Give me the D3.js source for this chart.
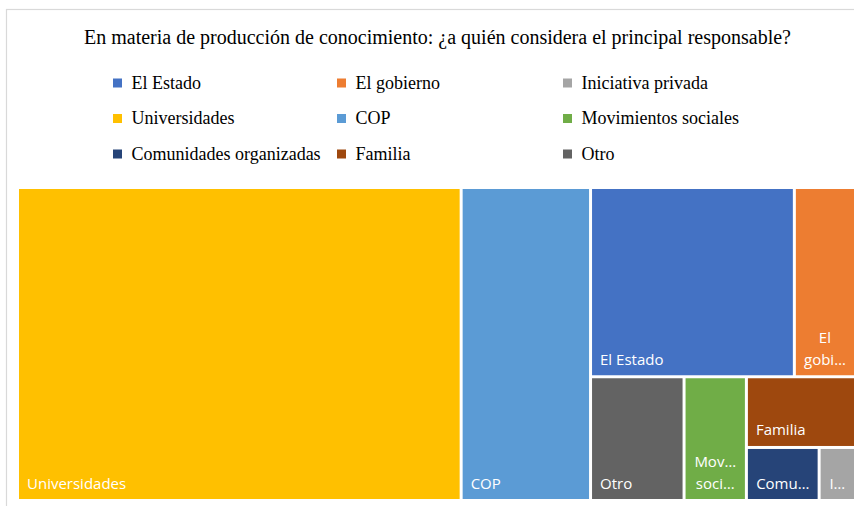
<!DOCTYPE html>
<html><head><meta charset="utf-8">
<script src="https://cdn.jsdelivr.net/npm/d3@7"></script>
<style>body{margin:0;background:#fff} svg{display:block}</style>
</head><body><svg id="chart" width="854" height="506"></svg>
<script>
const chartTitle = "En materia de producción de conocimiento: ¿a quién considera el principal responsable?";
const categories = ["El Estado","El gobierno","Iniciativa privada","Universidades","COP","Movimientos sociales","Comunidades organizadas","Familia","Otro"];
const values = [20, 6, 1, 72, 21, 4, 2, 4, 6];
const colors = ["#4472C4","#ED7D31","#A5A5A5","#FFC000","#5B9BD5","#70AD47","#264478","#9E480E","#636363"];

const svg = d3.select("#chart");
const W = 854, H = 506;
svg.append("rect").attr("width", W).attr("height", H).attr("fill", "#fff");
// chart area outline
svg.append("rect").attr("x", 6.5).attr("y", 9.5).attr("width", 900).attr("height", 560)
  .attr("fill", "none").attr("stroke", "#d9d9d9").attr("stroke-width", 1.2);

// title
svg.append("text").attr("x", 437.5).attr("y", 44).attr("text-anchor", "middle")
  .style("font-family", "'Liberation Serif','Times New Roman',serif").style("font-size", "20px")
  .attr("fill", "#000").text(chartTitle);

// legend (3 columns)
const legCols = [113, 337, 563], legRows = [88.5, 124, 159.5];
const leg = svg.append("g");
categories.forEach((c, i) => {
  const x = legCols[i % 3], y = legRows[Math.floor(i / 3)];
  leg.append("rect").attr("x", x).attr("y", y - 10).attr("width", 9).attr("height", 9).attr("fill", colors[i]);
  leg.append("text").attr("x", x + 18.5).attr("y", y)
    .style("font-family", "'Liberation Serif','Times New Roman',serif").style("font-size", "18px")
    .attr("fill", "#000").text(c);
});

// Treemap: squarified strips aiming at a preferred cell shape (width/height = 0.75)
const TARGET = 0.75;
function stripTile(parent, x0, y0, x1, y1) {
  const nodes = parent.children;
  let value = parent.value, i0 = 0;
  while (i0 < nodes.length) {
    const dx = x1 - x0, dy = y1 - y0;
    const column = dx >= dy;
    const score = (a, b) => {
      let s = 0; for (let k = a; k < b; k++) s += nodes[k].value;
      const thick = (column ? dx : dy) * s / value;
      let worst = 0;
      for (let k = a; k < b; k++) {
        const len = (column ? dy : dx) * nodes[k].value / s;
        const r = column ? thick / len : len / thick;
        worst = Math.max(worst, r / TARGET, TARGET / r);
      }
      return worst;
    };
    let i1 = i0 + 1, best = score(i0, i1);
    while (i1 < nodes.length) {
      const s = score(i0, i1 + 1);
      if (s > best) break;
      best = s; i1++;
    }
    const kids = nodes.slice(i0, i1);
    const sum = d3.sum(kids, d => d.value);
    const row = {children: kids, value: sum};
    if (column) {
      const xk = i1 >= nodes.length ? x1 : x0 + dx * sum / value;
      d3.treemapSlice(row, x0, y0, xk, y1); x0 = xk;
    } else {
      const yk = i1 >= nodes.length ? y1 : y0 + dy * sum / value;
      d3.treemapDice(row, x0, y0, x1, yk); y0 = yk;
    }
    value -= sum; i0 = i1;
  }
}

const data = {name: "root", children: categories.map((c, i) => ({name: c, value: values[i], index: i}))};
const root = d3.hierarchy(data).sum(d => d.value || 0)
  .sort((a, b) => (b.value - a.value) || (a.data.index - b.data.index));
d3.treemap().size([835, 310]).paddingInner(3).tile(stripTile)(root);

const plot = svg.append("g").attr("transform", "translate(19,189)");
const cells = plot.selectAll("g.cell").data(root.leaves()).join("g").attr("class", "cell");
cells.append("rect")
  .attr("x", d => d.x0).attr("y", d => d.y0)
  .attr("width", d => d.x1 - d.x0).attr("height", d => d.y1 - d.y0)
  .attr("fill", d => colors[d.data.index]);

const FONT = "'Open Sans','Noto Sans',sans-serif", FS = 15, LH = 21.5;
const meas = svg.append("text").style("font-family", FONT).style("font-size", FS + "px").attr("opacity", 0);
const tw = s => { meas.text(s); return meas.node().getComputedTextLength(); };

cells.each(function(d) {
  const g = d3.select(this);
  const w = d.x1 - d.x0, h = d.y1 - d.y0, name = d.data.name;
  const base = d.y1 - 10.5;
  const t = g.append("text").attr("fill", "#fff").style("font-family", FONT).style("font-size", FS + "px");
  if (tw(name) <= w - 16) {
    t.attr("x", d.x0 + 8).attr("y", base).text(name);
    return;
  }
  const avail = w - 15;
  const maxLines = Math.max(1, Math.floor((h - 8) / LH));
  const words = name.split(" ").slice(0, maxLines);
  const lines = words.map(wd => {
    if (tw(wd) <= avail) return wd;
    let s = wd;
    while (s.length > 1 && tw(s + "…") > avail) s = s.slice(0, -1);
    return s + "…";
  });
  t.attr("text-anchor", "middle");
  lines.forEach((ln, i) => {
    t.append("tspan").attr("x", (d.x0 + d.x1) / 2).attr("y", base - (lines.length - 1 - i) * LH).text(ln);
  });
});
meas.remove();
</script></body></html>
